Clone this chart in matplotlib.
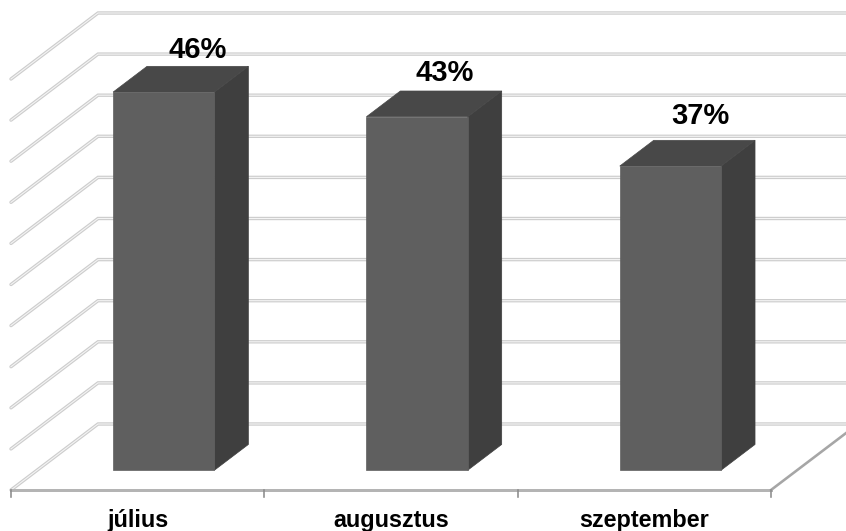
import matplotlib
matplotlib.use('Agg')
import matplotlib.pyplot as plt
from matplotlib.patches import Polygon

months = ['július', 'augusztus', 'szeptember']
values = [46, 43, 37]
label_lift = [42, 44, 50]     # label height above the front top edge, px
label_shift = [34, 28, 30]    # label shift from the front face centre, px
grid_values = [0, 5, 10, 15, 20, 25, 30, 35, 40, 45, 50]

W, H = 846, 531
PX_X = 253.33   # pixels per category
PX_Y = 8.22     # pixels per percent
DEPTH_X = 87 / PX_X
DEPTH_Y = 66 / PX_Y

plt.rcParams['font.family'] = ['Liberation Sans', 'DejaVu Sans']

fig = plt.figure(figsize=(W / 100, H / 100), dpi=100)
ax = fig.add_axes([0, 0, 1, 1])
ax.set_xlim(-11 / PX_X, (W - 11) / PX_X)
ax.set_ylim((490 - H) / PX_Y, 490 / PX_Y)
ax.axis('off')


def proj(x, y, d):
    # fake 3D: depth d slides a point up and to the right
    return x + d * DEPTH_X, y + d * DEPTH_Y


def px(n):
    return n * 72 / 100


# walls, double line look: gray stroke with a white core
for g in grid_values:
    xs = [proj(0, g, 0)[0], proj(0, g, 1)[0], proj(3, g, 1)[0]]
    ys = [proj(0, g, 0)[1], proj(0, g, 1)[1], proj(3, g, 1)[1]]
    ax.plot(xs, ys, color='#cdcdcd', lw=px(3.4), solid_joinstyle='miter', solid_capstyle='round', zorder=1)
    ax.plot(xs, ys, color='#f4f4f4', lw=px(1.1), solid_joinstyle='miter', zorder=1.1)

# floor front edge, right edge and ticks
ax.plot([0, 3], [0, 0], color='#b4b4b4', lw=px(3), zorder=2)
x_r, y_r = proj(3, 0, 1)
ax.plot([3, x_r], [0, y_r], color='#a6a6a6', lw=px(2.6), zorder=2)
for i in range(4):
    ax.plot([i, i], [0, -7 / PX_Y], color='#8c8c8c', lw=px(1.6), zorder=2)

# bars, right one drawn last
for i, v in enumerate(values):
    x0, x1 = i + 0.3, i + 0.7
    d0, d1 = 0.3, 0.69
    front = [proj(x0, 0, d0), proj(x1, 0, d0), proj(x1, v, d0), proj(x0, v, d0)]
    side = [proj(x1, 0, d0), proj(x1, 0, d1), proj(x1, v, d1), proj(x1, v, d0)]
    top = [proj(x0, v, d0), proj(x1, v, d0), proj(x1, v, d1), proj(x0, v, d1)]
    ax.add_patch(Polygon(side, closed=True, fc='#3f3f3f', ec='#3f3f3f', lw=0.5, zorder=3))
    ax.add_patch(Polygon(top, closed=True, fc='#484848', ec='#484848', lw=0.5, zorder=3))
    ax.add_patch(Polygon(front, closed=True, fc='#5f5f5f', ec='#5f5f5f', lw=0.5, zorder=3))

    # value label
    cx, cy = proj(i + 0.5, v, d0)
    ax.annotate(f'{v}%', (cx, cy), xytext=(px(label_shift[i]), px(label_lift[i])),
                textcoords='offset points', ha='center', va='center',
                fontsize=21, fontweight='bold', color='black', zorder=5)

# month names under the floor
for i, name in enumerate(months):
    ax.annotate(name, (i + 0.5, 0), xytext=(px(0), px(-30)), textcoords='offset points',
                ha='center', va='center', fontsize=16.8, fontweight='bold', color='black')

fig.savefig('out.png', dpi=100, facecolor='white')
